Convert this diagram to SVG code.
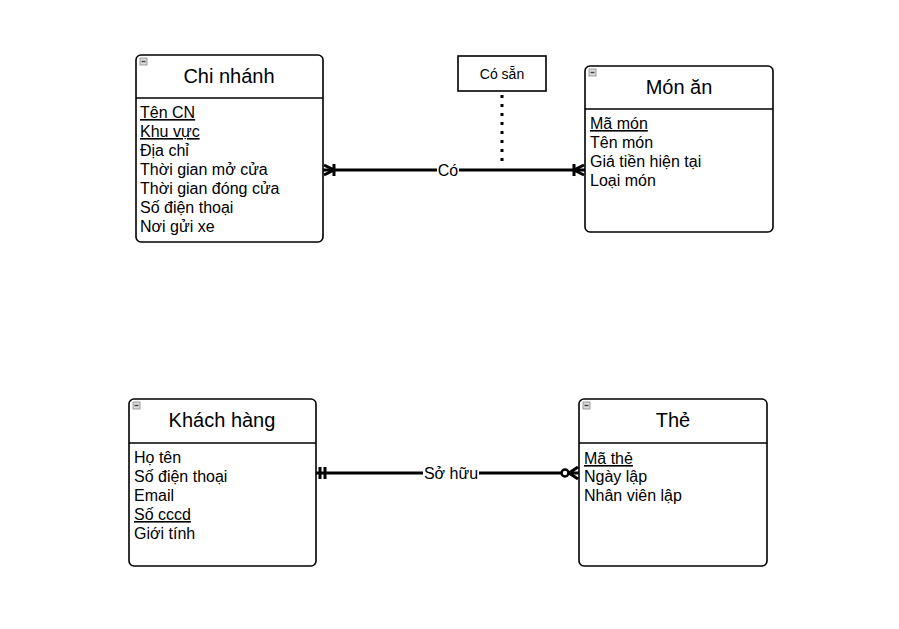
<svg xmlns="http://www.w3.org/2000/svg" width="899" height="629" viewBox="0 0 899 629">
<style>
.box{fill:#fff;stroke:#000;stroke-width:1.6}
.sep{stroke:#000;stroke-width:1.6}
.title{font-family:Arial,"Liberation Sans",sans-serif;font-size:20px;fill:#000;text-anchor:middle}
.attr{font-family:Arial,"Liberation Sans",sans-serif;font-size:16px;fill:#000}
.pk{text-decoration:underline}
.icon{fill:#ddd;stroke:#888;stroke-width:0.8}
.line{stroke:#000;stroke-width:3;fill:none}
.mk{stroke:#000;stroke-width:3;fill:none}
.lbl{font-family:Arial,"Liberation Sans",sans-serif;font-size:16px;fill:#000;text-anchor:middle}
.lblbg{fill:#fff}
</style>
<defs>
<g id="ic"><rect class="icon" x="0" y="0" width="7" height="7"/><line x1="1.5" y1="3.5" x2="5.5" y2="3.5" stroke="#444" stroke-width="1.5"/></g>
</defs>
<g id="connectors">
<line class="line" x1="323" y1="170" x2="585" y2="170"/>
<line x1="502" y1="95" x2="502" y2="167" stroke="#000" stroke-width="3" stroke-dasharray="3 6"/>
<path class="mk" d="M324,165 L334,170 L324,175 M334,164 V176"/>
<path class="mk" d="M584,165 L574,170 L584,175 M574,164 V176"/>
<rect class="lblbg" x="437" y="161" width="22" height="18"/>
<text class="lbl" x="448" y="176">Có</text>
<line class="line" x1="316" y1="473" x2="579" y2="473"/>
<path class="mk" d="M320,467 V479 M325,467 V479"/>
<path class="mk" d="M578,467 L569,473 L578,479"/>
<circle cx="565" cy="473" r="3.5" fill="#fff" stroke="#000" stroke-width="2.5"/>
<rect class="lblbg" x="423" y="464" width="56" height="18"/>
<text class="lbl" x="451" y="479">Sở hữu</text>
</g>
<g id="co-san">
<rect x="458" y="56" width="88" height="35" fill="#fff" stroke="#000" stroke-width="1.6"/>
<text x="502" y="79" font-family="Arial,'Liberation Sans',sans-serif" font-size="14px" text-anchor="middle">Có sẵn</text>
</g>
<g id="chi-nhanh">
<rect class="box" x="136" y="55" width="187" height="187" rx="5"/>
<line class="sep" x1="136" y1="98" x2="323" y2="98"/>
<use href="#ic" x="140" y="58"/>
<text class="title" x="229" y="83">Chi nhánh</text>
<text class="attr pk" x="140" y="118">Tên CN</text>
<text class="attr pk" x="140" y="137">Khu vực</text>
<text class="attr" x="140" y="156">Địa chỉ</text>
<text class="attr" x="140" y="175">Thời gian mở cửa</text>
<text class="attr" x="140" y="194">Thời gian đóng cửa</text>
<text class="attr" x="140" y="213">Số điện thoại</text>
<text class="attr" x="140" y="232">Nơi gửi xe</text>
</g>
<g id="mon-an">
<rect class="box" x="585" y="66" width="188" height="166" rx="5"/>
<line class="sep" x1="585" y1="109" x2="773" y2="109"/>
<use href="#ic" x="589" y="69"/>
<text class="title" x="679" y="94">Món ăn</text>
<text class="attr pk" x="590" y="129">Mã món</text>
<text class="attr" x="590" y="148">Tên món</text>
<text class="attr" x="590" y="167">Giá tiền hiện tại</text>
<text class="attr" x="590" y="186">Loại món</text>
</g>
<g id="khach-hang">
<rect class="box" x="129" y="399" width="187" height="167" rx="5"/>
<line class="sep" x1="129" y1="443" x2="316" y2="443"/>
<use href="#ic" x="133" y="402"/>
<text class="title" x="222" y="427">Khách hàng</text>
<text class="attr" x="134" y="463">Họ tên</text>
<text class="attr" x="134" y="482">Số điện thoại</text>
<text class="attr" x="134" y="501">Email</text>
<text class="attr pk" x="134" y="520">Số cccd</text>
<text class="attr" x="134" y="539">Giới tính</text>
</g>
<g id="the">
<rect class="box" x="579" y="399" width="188" height="167" rx="5"/>
<line class="sep" x1="579" y1="443" x2="767" y2="443"/>
<use href="#ic" x="583" y="402"/>
<text class="title" x="673" y="427">Thẻ</text>
<text class="attr pk" x="584" y="464">Mã thẻ</text>
<text class="attr" x="584" y="482">Ngày lập</text>
<text class="attr" x="584" y="501">Nhân viên lập</text>
</g>
</svg>
